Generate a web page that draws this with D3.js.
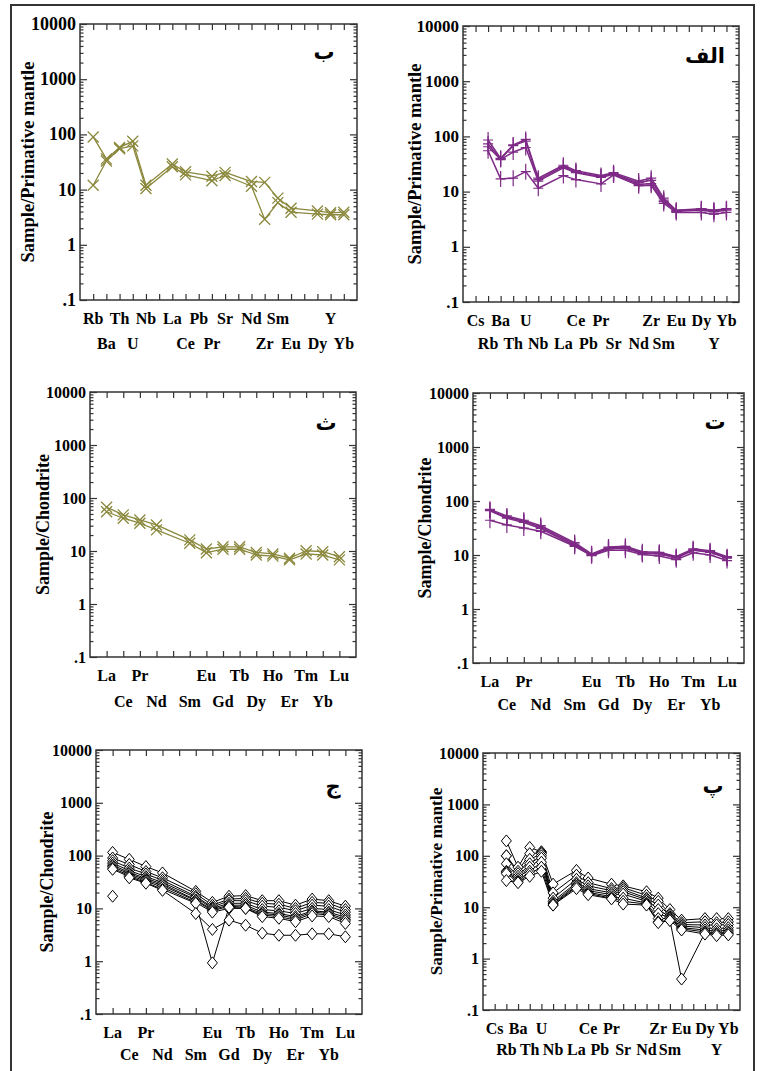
<!DOCTYPE html>
<html>
<head>
<meta charset="utf-8">
<script src="https://cdn.jsdelivr.net/npm/d3@7"></script>
<style>
  body { margin: 0; background: #fff; }
  svg { display: block; }
</style>
</head>
<body>
<svg id="fig" width="762" height="1071"></svg>
<script>
// Element order on the x axes (empty strings are unlabelled slots: K, P, Ti, Pm)
const pmElemsShort = ["Rb","Ba","Th","U","Nb","","La","Ce","Pb","Pr","Sr","","Nd","Zr","Sm","Eu","","Dy","Y","Yb"];
const pmElemsFull  = ["Cs","Rb","Ba","Th","U","Nb","","La","Ce","Pb","Pr","Sr","","Nd","Zr","Sm","Eu","","Dy","Y","Yb"];
const reeElems     = ["La","Ce","Pr","Nd","","Sm","Eu","Gd","Tb","Dy","Ho","Er","Tm","Yb","Lu"];

const yTickValues = [0.1, 1, 10, 100, 1000, 10000];
const yTickLabels = [".1", "1", "10", "100", "1000", "10000"];

// ب : primitive-mantle normalised, two samples
const beSample1 = [90, 36, 58, 75, 12, null, 29, 21, null, 17.5, 20.5, null, 14, 13.5, 7.0, 4.6, null, 4.1, 3.8, 3.9];
const beSample2 = [12, 33, 55, 62, 10.5, null, 26, 18.5, null, 14.5, 18, null, 11.5, 2.9, 5.8, 3.9, null, 3.6, 3.5, 3.5];

// الف : primitive-mantle normalised, four samples
const alefSample1 = [null, 86, 40, 70, 88, 17.5, null, 30, 24, null, 19.5, 22, null, 15.5, 17.5, 7.6, 4.6, null, 4.9, 4.6, 4.9];
const alefSample2 = [null, 73, 39, 68, 82, 16.5, null, 28.5, 23, null, 18.5, 21, null, 14.5, 16, 7.0, 4.5, null, 4.8, 4.5, 4.8];
const alefSample3 = [null, 65, 38, 52, 63, 15.5, null, 27, 22, null, 18, 20.5, null, 13.5, 14, 6.6, 4.4, null, 4.6, 4.3, 4.6];
const alefSample4 = [null, 55, 17, 17.5, 23, 11.5, null, 19.5, 16.5, null, 13.8, 20, null, 12.8, 13, 6.1, 4.2, null, 4.2, 3.9, 4.2];

// ث : chondrite normalised REE, two samples
const seSample1 = [67, 48, 38.5, 31, null, 16.2, 10.9, 12, 12, 9.4, 8.8, 7.3, 10.1, 9.7, 7.8];
const seSample2 = [55, 41.5, 33.4, 25, null, 14, 9.3, 10.8, 10.8, 8.4, 8.0, 6.8, 8.8, 8.4, 6.8];

// ت : chondrite normalised REE, four samples
const teSample1 = [70, 53, 44, 35, null, 17, 10.5, 14, 14.5, 11.5, 11.2, 9.4, 13, 12, 9.3];
const teSample2 = [67, 50, 42, 33, null, 16, 10.2, 13.5, 14, 11, 10.8, 9.0, 12.5, 11.5, 9.0];
const teSample3 = [66, 48, 40, 31, null, 15, 9.9, 13, 13.3, 10.7, 10.5, 8.8, 12.2, 11.2, 8.7];
const teSample4 = [44, 36, 31.5, 27.5, null, 14.5, 9.7, 12.2, 12.2, 10.2, 9.6, 8.2, 11, 10, 7.9];

// ج : chondrite normalised REE, granitoid suite
const jimSample1  = [115, 85, 62, 47, null, 21, 13, 17, 17.5, 14, 14, 11.5, 15, 14, 11];
const jimSample2  = [90, 68, 50, 38, null, 19, 11.5, 15, 15.5, 12.5, 12, 10, 13, 12.5, 9.5];
const jimSample3  = [80, 58, 45, 34, null, 17, 10.5, 14, 14, 11, 10.5, 9, 11.5, 11, 8.5];
const jimSample4  = [72, 52, 40, 31, null, 16, 10, 12.5, 12.5, 9.5, 9, 8, 10, 9.5, 7.5];
const jimSample5  = [66, 48, 37, 29, null, 14.5, 9.5, 11.5, 11.5, 8.5, 8, 7, 9, 8.5, 6.8];
const jimSample6  = [62, 45, 35, 27, null, 14, 9, 11, 10.5, 8, 7.5, 6.5, 8.5, 8, 6.2];
const jimSample7  = [58, 42, 33, 25, null, 13, 8.5, 10, 10, 7.5, 7, 6, 8, 7.5, 5.8];
const jimSample8  = [55, 40, 31, 23, null, 12.5, 0.93, 10.5, 10, 7, 6.5, 5.6, 7.2, 7, 5.2];
const jimSample9  = [null, 38, 30, 22, null, 8, 4, 6, 4.8, 3.4, 3.1, 3.1, 3.3, 3.3, 2.9];
const jimSample10 = [17, null, null, null, null, null, null, null, null, null, null, null, null, null, null];

// پ : primitive-mantle normalised, granitoid suite
const peSample1 = [null, 195, 60, 145, 120, 28, null, 52, 37, null, 28, 26, null, 20, 15, 9, 5.6, null, 6.0, 6.0, 6.0];
const peSample2 = [null, 100, 50, 110, 115, 19, null, 42, 30, null, 23, 24, null, 17, 13, 7.5, 5.0, null, 5.2, 5.0, 5.2];
const peSample3 = [null, 100, 45, 85, 110, 15, null, 35, 26, null, 21, 22, null, 15, 11, 7, 4.6, null, 4.5, 4.5, 4.6];
const peSample4 = [null, 70, 40, 70, 100, 13, null, 30, 23, null, 19, 20, null, 14, 9, 6.5, 4.3, null, 4.0, 3.8, 4.0];
const peSample5 = [null, 50, 36, 60, 90, 12, null, 28, 21, null, 17.5, 18, null, 13, 7.5, 6.2, 4.0, null, 3.6, 3.4, 3.6];
const peSample6 = [null, 48, 33, 50, 75, 11.5, null, 26, 19.5, null, 16, 15, null, 12, 6, 6.0, 3.8, null, 3.3, 3.1, 3.3];
const peSample7 = [null, 45, 31, 45, 60, 11, null, 25, 18.5, null, 15, 13, null, 11.5, 5.2, 5.6, 0.4, null, 3.2, 3.0, 3.1];
const peSample8 = [null, 33, 30, 40, 50, 11, null, 23, 17.5, null, 14.5, 11.5, null, 11, 5.0, 5.5, 3.6, null, 3.0, 2.8, 2.9];

const OLIVE = "#8a883c";
const PURPLE = "#7e2a86";
const INK = "#000";
const FRAME = "#333";
const SERIF = "'Liberation Serif','Times New Roman',Times,serif";
const ARABIC = "'Liberation Serif','DejaVu Sans',serif";

const markers = {
  cross: "M-5.5,-5.5L5.5,5.5M-5.5,5.5L5.5,-5.5",
  plus: "M-5,0H5M0,-8V8",
  diamond: "M0,-6L5,0L0,6L-5,0Z"
};

const svg = d3.select("#fig");

// page border
svg.append("rect")
  .attr("x", 11).attr("y", 5)
  .attr("width", 743).attr("height", 1090)
  .attr("fill", "none").attr("stroke", FRAME).attr("stroke-width", 2);

function drawPanel(p) {
  const g = svg.append("g");
  const n = p.elems.length;
  const x = d3.scaleLinear().domain([0, n + 1]).range([p.x0, p.x1]);
  const y = d3.scaleLog().domain([0.1, 10000]).range([p.y1, p.y0]);

  const minor = [];
  for (let e = -1; e < 4; e++) for (let k = 2; k <= 9; k++) minor.push(k * Math.pow(10, e));
  const slots = d3.range(1, n + 1);

  const axes = g.append("g").attr("color", FRAME).attr("stroke-width", 1.2);
  const noDomain = sel => sel.select(".domain").remove();
  axes.append("g").attr("transform", `translate(${p.x0},0)`)
    .call(d3.axisLeft(y).tickValues(yTickValues).tickSize(-7).tickFormat("")).call(noDomain);
  axes.append("g").attr("transform", `translate(${p.x0},0)`)
    .call(d3.axisLeft(y).tickValues(minor).tickSize(-3.5).tickFormat("")).call(noDomain);
  axes.append("g").attr("transform", `translate(${p.x1},0)`)
    .call(d3.axisRight(y).tickValues(yTickValues).tickSize(-7).tickFormat("")).call(noDomain);
  axes.append("g").attr("transform", `translate(${p.x1},0)`)
    .call(d3.axisRight(y).tickValues(minor).tickSize(-3.5).tickFormat("")).call(noDomain);
  axes.append("g").attr("transform", `translate(0,${p.y1})`)
    .call(d3.axisBottom(x).tickValues(slots).tickSize(-6).tickFormat("")).call(noDomain);
  axes.append("g").attr("transform", `translate(0,${p.y0})`)
    .call(d3.axisTop(x).tickValues(slots).tickSize(-6).tickFormat("")).call(noDomain);

  g.append("rect")
    .attr("x", p.x0).attr("y", p.y0)
    .attr("width", p.x1 - p.x0).attr("height", p.y1 - p.y0)
    .attr("fill", "none").attr("stroke", FRAME).attr("stroke-width", 1.5);

  // y tick labels
  g.append("g").selectAll("text").data(yTickValues).join("text")
    .attr("x", p.x0 - 4)
    .attr("y", d => y(d))
    .attr("text-anchor", "end")
    .attr("dominant-baseline", "central")
    .attr("font-family", SERIF).attr("font-weight", "bold")
    .attr("font-size", p.yFont)
    .attr("fill", INK)
    .text((d, i) => yTickLabels[i]);

  // element labels, staggered on two rows
  g.append("g").selectAll("text").data(p.elems.map((e, i) => ({ e, i })).filter(d => d.e !== ""))
    .join("text")
    .attr("x", d => x(d.i + 1))
    .attr("y", d => p.y1 + (d.i % 2 === 0 ? p.row1 : p.row2))
    .attr("text-anchor", "middle")
    .attr("dominant-baseline", "central")
    .attr("font-family", SERIF).attr("font-weight", "bold")
    .attr("font-size", p.xFont)
    .attr("fill", INK)
    .text(d => d.e);

  // y title
  const tx = p.x0 - p.titleOff, ty = (p.y0 + p.y1) / 2;
  g.append("text")
    .attr("transform", `translate(${tx},${ty}) rotate(-90)`)
    .attr("text-anchor", "middle")
    .attr("dominant-baseline", "central")
    .attr("font-family", SERIF).attr("font-weight", "bold")
    .attr("font-size", p.titleFont)
    .attr("fill", INK)
    .text(p.title);

  // panel letter
  g.append("text")
    .attr("x", p.tagX).attr("y", p.tagY)
    .attr("text-anchor", "middle")
    .attr("dominant-baseline", "central")
    .attr("font-family", ARABIC).attr("font-weight", "bold")
    .attr("font-size", 21)
    .attr("fill", INK)
    .text(p.tag);

  // sample patterns
  const line = d3.line().x(d => x(d.i + 1)).y(d => y(d.v));
  const pts = p.series.map(s => s.map((v, i) => ({ i, v })).filter(d => d.v != null));
  const lines = g.append("g");
  pts.forEach(ps => {
    if (ps.length > 1) {
      lines.append("path")
        .attr("d", line(ps))
        .attr("fill", "none")
        .attr("stroke", p.color)
        .attr("stroke-width", p.lw)
        .attr("stroke-linejoin", "round");
    }
  });
  const marks = g.append("g");
  pts.forEach(ps => {
    marks.selectAll(null).data(ps).join("path")
      .attr("transform", d => `translate(${x(d.i + 1)},${y(d.v)})`)
      .attr("d", markers[p.marker])
      .attr("fill", p.marker === "diamond" ? "#fff" : "none")
      .attr("stroke", p.color)
      .attr("stroke-width", p.mw);
  });
}

const PM_TITLE = "Sample/Primative mantle";
const CH_TITLE = "Sample/Chondrite";

drawPanel({
  x0: 80, x1: 357, y0: 24, y1: 300, elems: pmElemsShort,
  series: [beSample1, beSample2], color: OLIVE, marker: "cross", lw: 1.3, mw: 1.3,
  yFont: 18, xFont: 16, row1: 18, row2: 43, title: PM_TITLE, titleFont: 18.5, titleOff: 52,
  tag: "ب", tagX: 324, tagY: 52
});
drawPanel({
  x0: 463, x1: 739, y0: 26, y1: 302, elems: pmElemsFull,
  series: [alefSample1, alefSample2, alefSample3, alefSample4], color: PURPLE, marker: "plus", lw: 1.5, mw: 1.2,
  yFont: 17, xFont: 16, row1: 18, row2: 41, title: PM_TITLE, titleFont: 18.5, titleOff: 48,
  tag: "الف", tagX: 705, tagY: 56
});
drawPanel({
  x0: 90, x1: 356, y0: 392, y1: 657, elems: reeElems,
  series: [seSample1, seSample2], color: OLIVE, marker: "cross", lw: 1.3, mw: 1.3,
  yFont: 16, xFont: 16, row1: 18, row2: 44, title: CH_TITLE, titleFont: 18, titleOff: 47,
  tag: "ث", tagX: 326, tagY: 423
});
drawPanel({
  x0: 473, x1: 744, y0: 393, y1: 663, elems: reeElems,
  series: [teSample1, teSample2, teSample3, teSample4], color: PURPLE, marker: "plus", lw: 1.5, mw: 1.2,
  yFont: 16, xFont: 16, row1: 18, row2: 41, title: CH_TITLE, titleFont: 18, titleOff: 48,
  tag: "ت", tagX: 715, tagY: 422
});
drawPanel({
  x0: 96, x1: 362, y0: 750, y1: 1014, elems: reeElems,
  series: [jimSample1, jimSample2, jimSample3, jimSample4, jimSample5, jimSample6, jimSample7, jimSample8, jimSample9, jimSample10],
  color: INK, marker: "diamond", lw: 1, mw: 1,
  yFont: 16, xFont: 16, row1: 18, row2: 40, title: CH_TITLE, titleFont: 18, titleOff: 49,
  tag: "ج", tagX: 333, tagY: 786
});
drawPanel({
  x0: 483, x1: 740, y0: 753, y1: 1010, elems: pmElemsFull,
  series: [peSample1, peSample2, peSample3, peSample4, peSample5, peSample6, peSample7, peSample8],
  color: INK, marker: "diamond", lw: 1, mw: 1,
  yFont: 16, xFont: 16, row1: 18, row2: 39, title: PM_TITLE, titleFont: 17.3, titleOff: 47,
  tag: "پ", tagX: 713, tagY: 786
});
</script>
</body>
</html>
